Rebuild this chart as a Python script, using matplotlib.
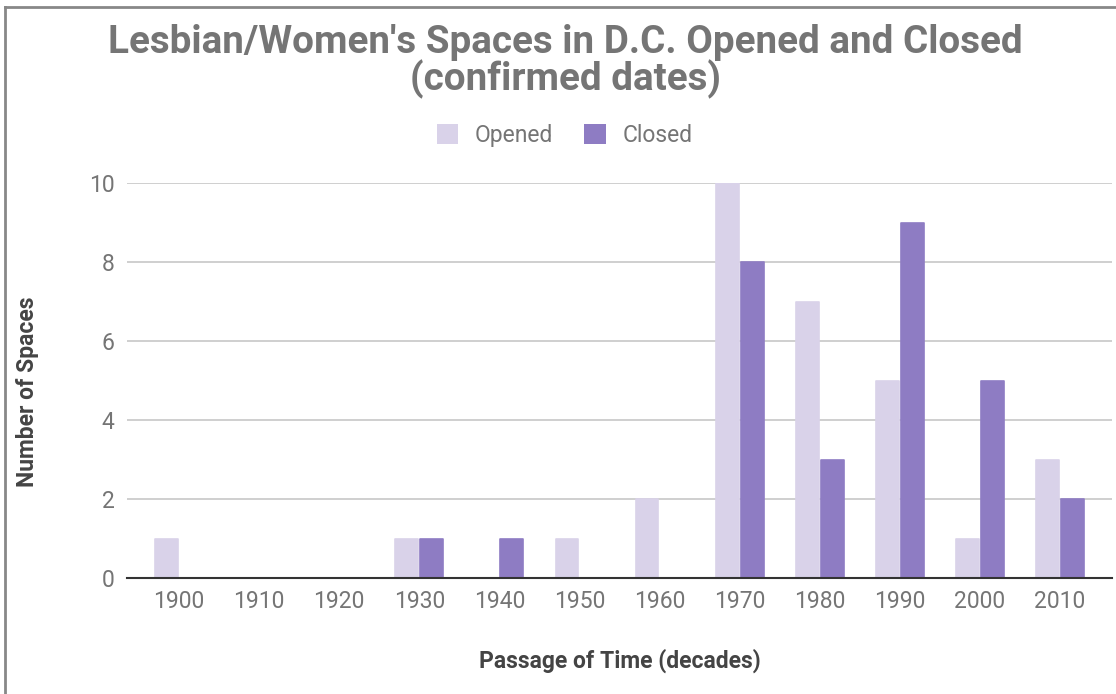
import matplotlib
matplotlib.use("Agg")
import matplotlib.pyplot as plt
import numpy as np
from matplotlib.lines import Line2D
from matplotlib.patches import Patch

decades = ["1900", "1910", "1920", "1930", "1940", "1950", "1960", "1970", "1980", "1990", "2000", "2010"]
opened = [1, 0, 0, 1, 0, 1, 2, 10, 7, 5, 1, 3]
closed = [0, 0, 0, 1, 1, 0, 0, 8, 3, 9, 5, 2]

C_OPEN = "#d9d2e9"
C_CLOSE = "#8e7cc3"
GRAY = "#757575"
DARK = "#444444"

plt.rcParams['font.family'] = ['Roboto', 'DejaVu Sans']

W, H = 1116, 694
fig = plt.figure(figsize=(W / 100, H / 100), dpi=100)
ax_l, ax_r, ax_t, ax_b = 127, 1112, 183, 578
ax = fig.add_axes([ax_l / W, 1 - ax_b / H, (ax_r - ax_l) / W, (ax_b - ax_t) / H])

x = np.arange(len(decades))
w = 0.285
ax.bar(x - 0.156, opened, width=w, color=C_OPEN, edgecolor=C_OPEN, linewidth=1.2,
       joinstyle='round', zorder=3)
ax.bar(x + 0.156, closed, width=w, color=C_CLOSE, edgecolor=C_CLOSE, linewidth=1.2,
       joinstyle='round', zorder=3)

ax.set_xlim(-0.65, len(decades) - 0.35)
ax.set_ylim(0, 10)
ax.set_yticks([0, 2, 4, 6, 8, 10])
ax.set_xticks(x)
ax.set_xticklabels(decades)
ax.tick_params(axis='both', length=0, labelsize=16.5, colors=GRAY)
ax.tick_params(axis='y', pad=9)
ax.tick_params(axis='x', pad=9)
ax.grid(axis='y', color='#cccccc', linewidth=1.3, zorder=0)
for s in ['top', 'right', 'left']:
    ax.spines[s].set_visible(False)
ax.spines['bottom'].set_color('#333333')
ax.spines['bottom'].set_linewidth(1.5)
ax.spines['bottom'].set_zorder(4)

ax.set_ylabel("Number of Spaces", fontsize=16.5, fontweight='bold', color=DARK)
ax.yaxis.set_label_coords((39 - ax_l) / (ax_r - ax_l), (ax_b - 391.5) / (ax_b - ax_t))
ax.set_xlabel("Passage of Time (decades)", fontsize=16.5, fontweight='bold', color=DARK)
ax.xaxis.label.set_va('baseline')
ax.xaxis.set_label_coords((620 - ax_l) / (ax_r - ax_l), (ax_b - 668) / (ax_b - ax_t))

fig.text(565 / W, 1 - 53 / H, "Lesbian/Women's Spaces in D.C. Opened and Closed",
         ha='center', va='baseline', fontsize=27.8, fontweight='bold', color=GRAY)
fig.text(565 / W, 1 - 90 / H, "(confirmed dates)",
         ha='center', va='baseline', fontsize=27.8, fontweight='bold', color=GRAY)

handles = [Patch(facecolor=C_OPEN, label="Opened"), Patch(facecolor=C_CLOSE, label="Closed")]
fig.legend(handles=handles, loc='center', bbox_to_anchor=(564.5 / W, 1 - 135.5 / H), ncol=2, frameon=False,
           fontsize=16.5, labelcolor=GRAY, handlelength=0.95, handleheight=0.95, columnspacing=1.35,
           handletextpad=0.72, borderpad=0, borderaxespad=0)

fig.add_artist(Line2D([5 / W, 1], [1 - 7 / H, 1 - 7 / H], color='#888888', linewidth=2, transform=fig.transFigure))
fig.add_artist(Line2D([5 / W, 5 / W], [0, 1 - 7 / H], color='#888888', linewidth=2, transform=fig.transFigure))

fig.savefig("out.png", dpi=100)
